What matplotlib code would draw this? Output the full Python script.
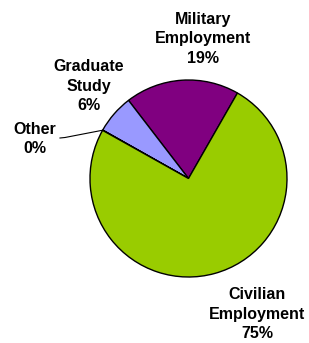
import numpy as np
import matplotlib
matplotlib.use("Agg")
import matplotlib.pyplot as plt

categories = ["Military\nEmployment", "Graduate\nStudy", "Other", "Civilian\nEmployment"]
values = [18.7, 6.4, 0.05, 74.85]
colors = ["#800080", "#9999FF", "#FFFFFF", "#99CC00"]

W, H = 309, 343
cx, cy, R = 188.5, 178.5, 98.5

fig = plt.figure(figsize=(W / 100, H / 100), dpi=100)
ax = fig.add_axes([0, 0, 1, 1])
wedges, _ = ax.pie(values, colors=colors, startangle=60.2, counterclock=True,
                   wedgeprops=dict(edgecolor="black", linewidth=1.0))
ax.set_aspect("auto")
ax.set_xlim(-cx / R, (W - cx) / R)
ax.set_ylim(-(H - cy) / R, cy / R)
ax.axis("off")

def px(x, y):
    return ((x - cx) / R, (cy - y) / R)

total = sum(values)
label_pos = [px(203, 39), px(88.5, 86), px(35, 139), px(257, 314)]
font = dict(family=["Liberation Sans", "DejaVu Sans"], fontweight="bold", fontsize=11.5,
            ha="center", va="center", linespacing=1.4)
for cat, v, (x, y) in zip(categories, values, label_pos):
    pct = int(round(v / total * 100))
    ax.text(x, y, f"{cat}\n{pct}%", **font)

# leader line for "Other"
w = wedges[2]
ang = np.deg2rad((w.theta1 + w.theta2) / 2)
ex, ey = np.cos(ang), np.sin(ang)
p1 = px(60, 138)
p2 = px(65, 137.5)
ax.plot([p1[0], p2[0], ex], [p1[1], p2[1], ey], color="black", linewidth=0.8)

fig.savefig("out.png", dpi=100)
